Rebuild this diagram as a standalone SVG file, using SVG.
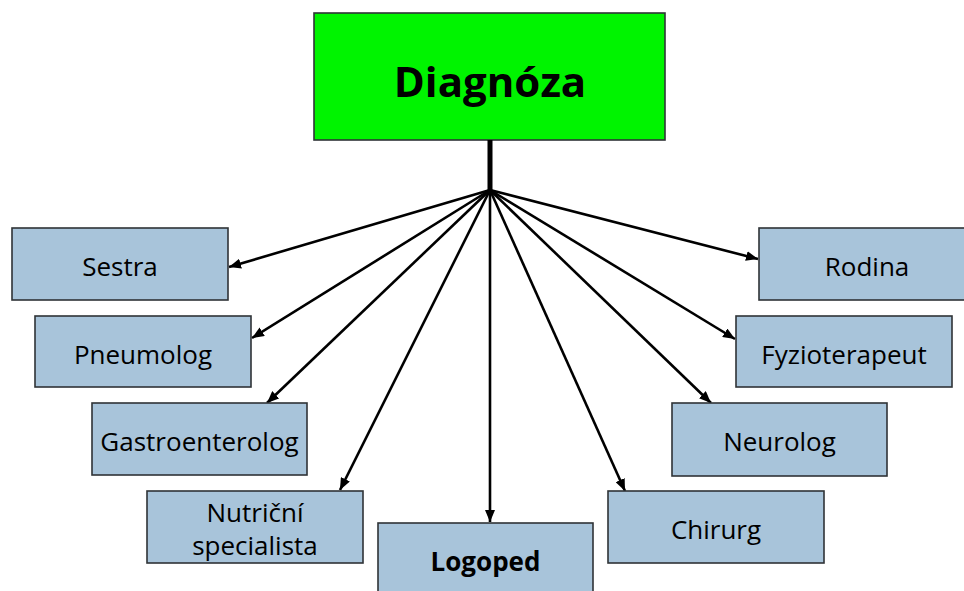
<svg xmlns="http://www.w3.org/2000/svg" width="964" height="591" viewBox="0 0 964 591">
<style>
.box{fill:#a8c4da;stroke:#2f3336;stroke-width:1.6}
.lbl{font-family:"Open Sans","Liberation Sans",sans-serif;font-size:26px;fill:#000;text-anchor:middle}
.b{font-weight:bold}
.conn line{stroke:#000;stroke-width:2.6;marker-end:url(#ah)}
</style>
<defs>
<marker id="ah" markerUnits="userSpaceOnUse" viewBox="0 0 12 10" refX="12" refY="5" markerWidth="12" markerHeight="10" orient="auto">
<path d="M0,0 L12,5 L0,10 Z" fill="#000"/>
</marker>
</defs>
<rect width="964" height="591" fill="#fff"/>
<g id="diagnoza">
<rect x="314" y="13" width="351" height="127" fill="#00f400" stroke="#2f3336" stroke-width="1.6"/>
<text class="lbl b" x="490" y="97" style="font-size:42px">Diagnóza</text>
</g>
<g class="conn" id="connectors">
<rect x="487.5" y="140" width="5" height="51" fill="#000"/>
<line x1="490" y1="190" x2="229" y2="267"/>
<line x1="490" y1="190" x2="252" y2="338"/>
<line x1="490" y1="190" x2="267" y2="403"/>
<line x1="490" y1="190" x2="340" y2="490"/>
<line x1="490" y1="190" x2="490" y2="522"/>
<line x1="490" y1="190" x2="625" y2="491"/>
<line x1="490" y1="190" x2="711" y2="403"/>
<line x1="490" y1="190" x2="735" y2="339"/>
<line x1="490" y1="190" x2="758" y2="259"/>
</g>
<g id="sestra"><rect class="box" x="12" y="228" width="216" height="72"/><text class="lbl" x="120" y="276">Sestra</text></g>
<g id="pneumolog"><rect class="box" x="35" y="316" width="216" height="71"/><text class="lbl" x="143" y="364">Pneumolog</text></g>
<g id="gastroenterolog"><rect class="box" x="92" y="403" width="215" height="72"/><text class="lbl" x="199.5" y="451">Gastroenterolog</text></g>
<g id="nutricni"><rect class="box" x="147" y="491" width="216" height="72"/><text class="lbl" x="255" y="522">Nutriční</text><text class="lbl" x="255" y="555">specialista</text></g>
<g id="logoped"><rect class="box" x="378" y="523" width="215" height="80"/><text class="lbl b" x="485.5" y="571">Logoped</text></g>
<g id="chirurg"><rect class="box" x="608" y="491" width="216" height="72"/><text class="lbl" x="716" y="539">Chirurg</text></g>
<g id="neurolog"><rect class="box" x="672" y="403" width="215" height="73"/><text class="lbl" x="779.5" y="451">Neurolog</text></g>
<g id="fyzioterapeut"><rect class="box" x="736" y="316" width="216" height="71"/><text class="lbl" x="844" y="364">Fyzioterapeut</text></g>
<g id="rodina"><rect class="box" x="759" y="228" width="216" height="72"/><text class="lbl" x="867" y="276">Rodina</text></g>
</svg>
